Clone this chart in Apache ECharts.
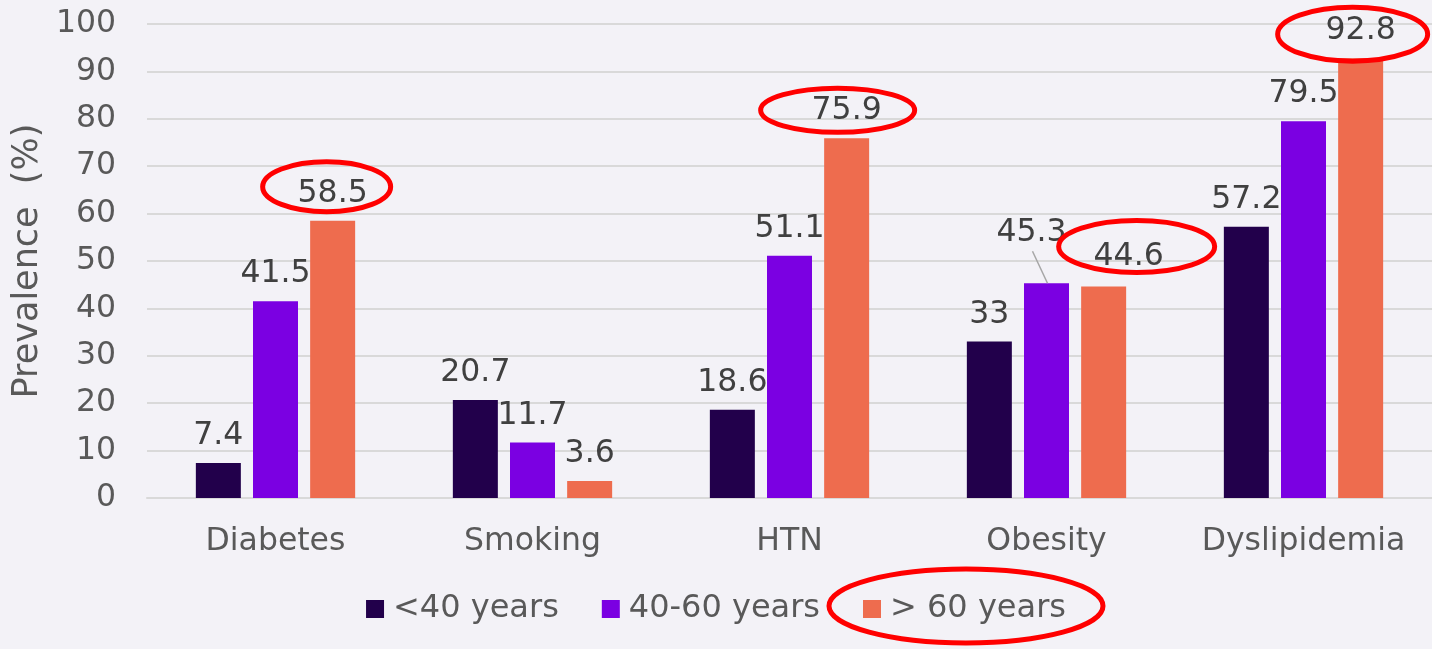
<!DOCTYPE html>
<html>
<head>
<meta charset="utf-8">
<script src="https://cdn.jsdelivr.net/npm/echarts@6/dist/echarts.min.js"></script>
<style>
  html, body { margin: 0; padding: 0; background: #f3f2f7; }
  #chart { width: 1432px; height: 649px; }
</style>
</head>
<body>
<div id="chart"></div>
<script>
// Risk-factor prevalence by age group
const categories = ['Diabetes', 'Smoking', 'HTN', 'Obesity', 'Dyslipidemia'];
const seriesNames = ['<40 years', '40-60 years', '> 60 years'];
const under40 = [7.4, 20.7, 18.6, 33, 57.2];
const age40to60 = [41.5, 11.7, 51.1, 45.3, 79.5];
const over60 = [58.5, 3.6, 75.9, 44.6, 92.8];
const yTickValues = [0, 10, 20, 30, 40, 50, 60, 70, 80, 90, 100];

const FONT = '"DejaVu Sans", Verdana, sans-serif';
const colors = ['#22004b', '#7b00e2', '#ee6c4e'];
const LABEL_DIST = 12;
const FS = 31.5;

// Label nudges (pixels) for crowded labels: [seriesIndex, dataIndex] -> offset
const labelNudges = {
  '1-3': { dx: -15, dy: -23 },
  '2-3': { dx: 25, dy: -3 }
};

// Highlight rings drawn around selected value labels
const highlights = [
  { s: 2, i: 0, dx: -6, dy: -34, rx: 64, ry: 25 },
  { s: 2, i: 2, dx: -9, dy: -28, rx: 77, ry: 22 },
  { s: 2, i: 3, dx: 33, dy: -40, rx: 78, ry: 26 },
  { s: 2, i: 4, dx: -8, dy: -24, rx: 75, ry: 27 }
];

const chart = echarts.init(document.getElementById('chart'), null, { renderer: 'canvas' });

function makeSeries(name, values, idx) {
  return {
    name: name,
    type: 'bar',
    data: values,
    barWidth: 45,
    barGap: '27%',
    itemStyle: { color: colors[idx] },
    label: {
      show: true,
      position: 'top',
      distance: LABEL_DIST,
      fontSize: FS,
      lineHeight: 30,
      color: '#404040',
      fontFamily: FONT
    },
    labelLayout: function (params) {
      const n = labelNudges[idx + '-' + params.dataIndex];
      return n ? { dx: n.dx, dy: n.dy } : {};
    }
  };
}

chart.setOption({
  backgroundColor: '#f3f2f7',
  animation: false,
  grid: { left: 147, right: -4, top: 24, bottom: 151, containLabel: false },
  legend: {
    data: seriesNames,
    left: 'center',
    top: 588,
    icon: 'rect',
    itemWidth: 18,
    itemHeight: 18,
    itemGap: 43,
    textStyle: { fontSize: 32, color: '#595959', fontFamily: FONT, padding: [0, 0, 0, 4] }
  },
  xAxis: {
    type: 'category',
    data: categories,
    axisLine: { show: true, lineStyle: { color: '#d9d9d9', width: 2 } },
    axisTick: { show: false },
    axisLabel: { interval: 0, fontSize: FS, color: '#595959', fontFamily: FONT, margin: 28 }
  },
  yAxis: {
    type: 'value',
    min: yTickValues[0],
    max: yTickValues[yTickValues.length - 1],
    interval: yTickValues[1] - yTickValues[0],
    name: 'Prevalence  (%)',
    nameLocation: 'middle',
    nameRotate: 90,
    nameGap: 100,
    nameTextStyle: { fontSize: 35, color: '#595959', fontFamily: FONT },
    axisLine: { show: false },
    axisTick: { show: false },
    axisLabel: { fontSize: FS, color: '#595959', fontFamily: FONT, margin: 31 },
    splitLine: { lineStyle: { color: '#d9d9d9', width: 2 } }
  },
  series: [
    makeSeries(seriesNames[0], under40, 0),
    makeSeries(seriesNames[1], age40to60, 1),
    makeSeries(seriesNames[2], over60, 2)
  ]
});

// Bar top-centre in pixels, taken from the laid-out bar
function barTop(s, i) {
  const lay = chart.getModel().getSeriesByIndex(s).getData().getItemLayout(i);
  return {
    x: lay.x + lay.width / 2,
    y: Math.min(lay.y, lay.y + lay.height)
  };
}

const graphics = [];

// leader line for the nudged 40-60 Obesity label
(function () {
  const n = labelNudges['1-3'];
  const t = barTop(1, 3);
  graphics.push({
    type: 'line',
    shape: { x1: t.x + n.dx + 1, y1: t.y + n.dy - 9, x2: t.x + 1, y2: t.y },
    style: { stroke: '#a6a6a6', lineWidth: 1.5 },
    z: 10
  });
})();

highlights.forEach(function (h) {
  const t = barTop(h.s, h.i);
  graphics.push({
    type: 'ellipse',
    shape: { cx: t.x + h.dx, cy: t.y + h.dy, rx: h.rx, ry: h.ry },
    style: { fill: 'none', stroke: '#ff0000', lineWidth: 5 },
    z: 20
  });
});

// ring around the "> 60 years" legend entry
graphics.push({
  type: 'ellipse',
  shape: { cx: 966, cy: 606, rx: 137, ry: 37 },
  style: { fill: 'none', stroke: '#ff0000', lineWidth: 5 },
  z: 20
});

chart.setOption({ graphic: graphics });
</script>
</body>
</html>
